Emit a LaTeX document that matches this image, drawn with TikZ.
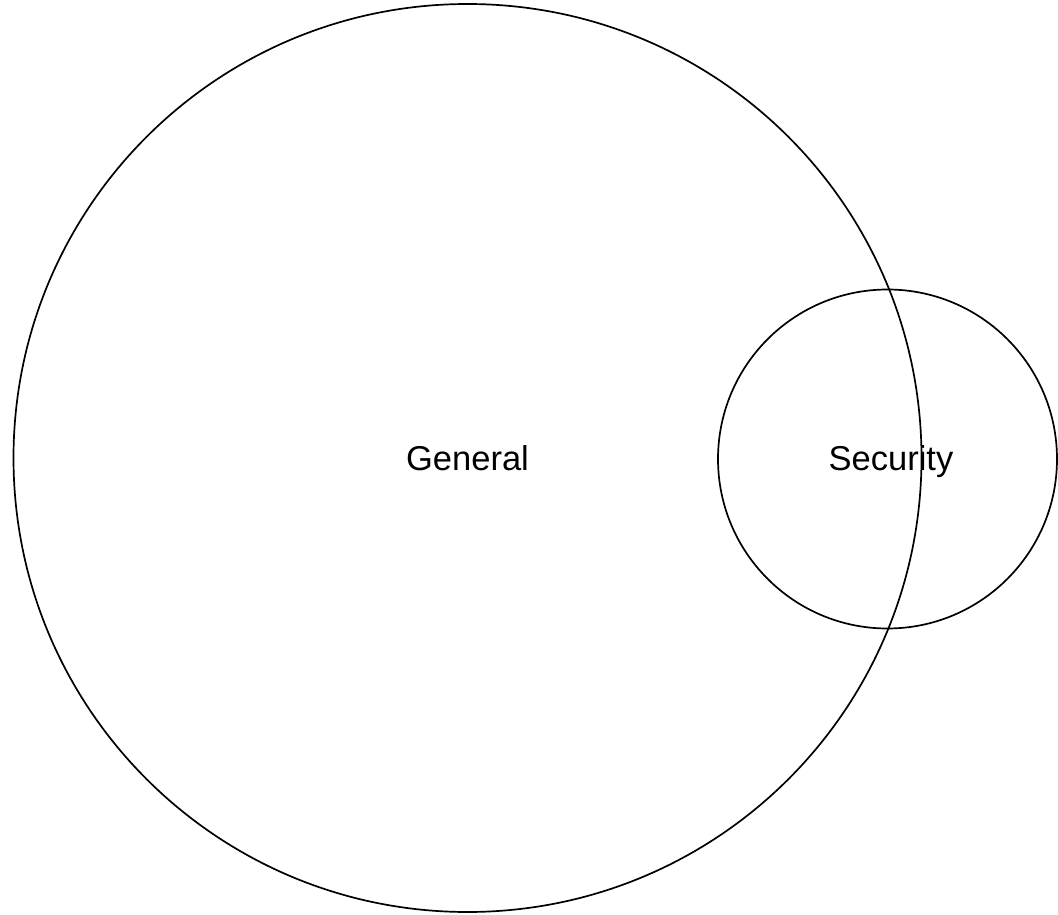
\documentclass[tikz,border=0pt]{standalone}
\usepackage{fontspec}
\setmainfont{Liberation Sans}
\tikzset{ring/.style={draw=black,line width=1.7pt},
  lbl/.style={inner sep=0pt,anchor=base,font=\fontsize{34.5}{41}\selectfont}}
\begin{document}
\begin{tikzpicture}[x=1pt,y=-1pt]
\useasboundingbox (0,0) rectangle (1058,915);
\draw[ring](467.5,458)circle (454pt);
\draw[ring](887.5,459)circle (169.5pt);
\node[lbl] (general) at (467.5,470.5) {General};
\node[lbl] (security) at (891,470.5) {Security};
\end{tikzpicture}
\end{document}
